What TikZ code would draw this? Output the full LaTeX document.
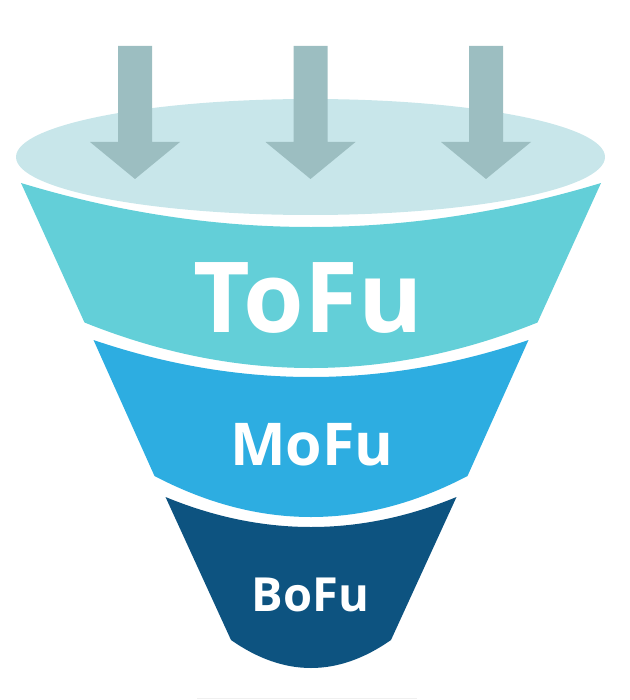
\documentclass[tikz,border=0pt]{standalone}
\usepackage{fontspec}
\setmainfont{Open Sans}
\definecolor{lidc}{HTML}{C8E6EA}
\definecolor{tofuc}{HTML}{63CFD8}
\definecolor{mofuc}{HTML}{2DADE1}
\definecolor{bofuc}{HTML}{0D5380}
\definecolor{arrowc}{HTML}{9CBEC1}
\tikzset{
  lbl/.style={text=white, inner sep=0pt, anchor=base},
  dnarrow/.style={fill=arrowc},
}
\begin{document}
\begin{tikzpicture}[x=1pt,y=-1pt]
\useasboundingbox (0,0) rectangle (629,700);
% lid
\fill[lidc] (310.5,157) ellipse [x radius=294.5pt, y radius=58pt];
% bands (parabolic edges as cubic curves)
\fill[tofuc] (21,183) .. controls (214.33,241.67) and (407.67,241.67) .. (601,183)
  -- (537.5,322.5) .. controls (386.5,383.17) and (235.5,383.17) .. (84.5,322.5) -- cycle;
\fill[mofuc] (93.5,340) .. controls (238.5,389.33) and (383.5,389.33) .. (528.5,340)
  -- (467.5,476) .. controls (363.17,530.67) and (258.83,530.67) .. (154.5,476) -- cycle;
\fill[bofuc] (165.5,497) .. controls (262.5,537) and (359.5,537) .. (456.5,497)
  -- (391,640) .. controls (337.67,677.33) and (284.33,677.33) .. (231,640) -- cycle;
% arrows
\foreach \x in {135,310.5,486}{
  \fill[dnarrow] (\x-17,46) -- (\x+17,46) -- (\x+17,142) -- (\x+45,142) -- (\x,179) -- (\x-45,142) -- (\x-17,142) -- cycle;
}
% faint base line
\draw[black!6, line width=1pt] (197,698.5) -- (417,698.5);
% labels
\node[lbl, font=\fontsize{98}{100}\bfseries\selectfont] (tofu) at (308,332) {ToFu};
\node[lbl, font=\fontsize{59}{62}\bfseries\selectfont] (mofu) at (312,465) {MoFu};
\node[lbl, font=\fontsize{47}{50}\bfseries\selectfont] (bofu) at (310.5,611) {BoFu};
\end{tikzpicture}
\end{document}
